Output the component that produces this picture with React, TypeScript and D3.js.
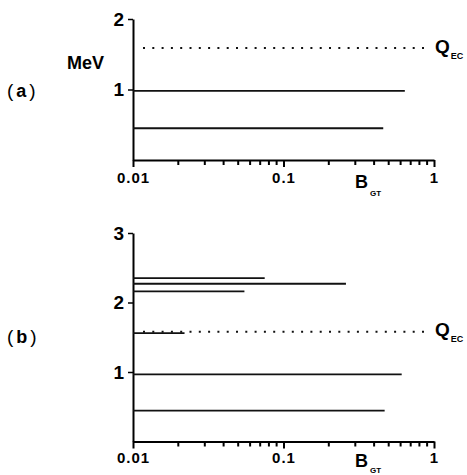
import { useRef, useEffect } from "react";
import * as d3 from "d3";

// panel (a)
const levelEnergiesA = [0.98, 0.45];
const levelBgtA = [0.64, 0.46];
const qecA = 1.59;

// panel (b)
const levelEnergiesB = [2.35, 2.27, 2.16, 1.56, 0.965, 0.445];
const levelBgtB = [0.075, 0.26, 0.055, 0.022, 0.61, 0.47];
const qecB = 1.58;

const xTickValues = [0.01, 0.1, 1];
const xTickLabels = ["0.01", "0.1", "1"];
const minorTicks = [
  0.02, 0.03, 0.04, 0.05, 0.06, 0.07, 0.08, 0.09, 0.2, 0.3, 0.4, 0.5, 0.6, 0.7,
  0.8, 0.9,
];
const yTicksA = [1, 2];
const yTicksB = [1, 2, 3];

const FONT = "'Liberation Sans', Arial, Helvetica, sans-serif";

export default function App() {
  const svgRef = useRef<SVGSVGElement | null>(null);

  useEffect(() => {
    const svg = d3.select(svgRef.current);
    svg.selectAll("*").remove();

    const x = d3.scaleLog().domain([0.01, 1]).range([133, 434]);

    const panels = [
      {
        y: d3.scaleLinear().domain([0, 2]).range([160, 19]),
        energies: levelEnergiesA,
        bgt: levelBgtA,
        qec: qecA,
        yTicks: yTicksA,
        label: "a",
        labelY: 97,
        bLabelY: 188,
        subDy: 8,
        qY: 53,
        xLabelY: 183,
      },
      {
        y: d3.scaleLinear().domain([0, 3]).range([441.5, 233]),
        energies: levelEnergiesB,
        bgt: levelBgtB,
        qec: qecB,
        yTicks: yTicksB,
        label: "b",
        labelY: 343,
        bLabelY: 467,
        subDy: 6,
        qY: 336,
        xLabelY: 463,
      },
    ];

    panels.forEach((p) => {
      const g = svg.append("g");
      const y = p.y;
      const y0 = y(0);

      // minor ticks on the log axis
      g.selectAll("line.minor")
        .data(minorTicks)
        .enter()
        .append("line")
        .attr("class", "minor")
        .attr("x1", (d) => x(d))
        .attr("x2", (d) => x(d))
        .attr("y1", y0)
        .attr("y2", y0 + 5)
        .attr("stroke", "#000")
        .attr("stroke-width", 2);

      // x axis: major ticks
      g.append("g")
        .attr("transform", `translate(0,${y0})`)
        .call(
          d3
            .axisBottom(x)
            .tickValues(xTickValues)
            .tickSize(7)
            .tickSizeOuter(0)
            .tickPadding(7)
            .tickFormat((_d: any, i: number) => xTickLabels[i])
        )
        .call((a: any) => a.select(".domain").attr("stroke-width", 2))
        .call((a: any) => a.selectAll("line").attr("stroke-width", 2))
        .call((a: any) =>
          a
            .selectAll("text")
            .attr("font-family", FONT)
            .attr("font-weight", "bold")
            .attr("font-size", 15)
            .attr("letter-spacing", 1)
            .attr("dy", null)
            .attr("y", p.xLabelY - y0)
        );

      // y axis
      g.append("g")
        .attr("transform", `translate(${x(0.01)},0)`)
        .call(
          d3
            .axisLeft(y)
            .tickValues(p.yTicks)
            .tickSize(5)
            .tickSizeOuter(0)
            .tickPadding(4)
            .tickFormat(d3.format("d"))
        )
        .call((a: any) => a.select(".domain").attr("stroke-width", 2))
        .call((a: any) => a.selectAll("line").attr("stroke-width", 1.5))
        .call((a: any) =>
          a
            .selectAll("text")
            .attr("font-family", FONT)
            .attr("font-weight", "bold")
            .attr("font-size", 19)
        );

      // level lines
      g.selectAll("line.level")
        .data(p.energies)
        .enter()
        .append("line")
        .attr("class", "level")
        .attr("x1", x(0.01))
        .attr("x2", (_d, i) => x(p.bgt[i]))
        .attr("y1", (d) => y(d))
        .attr("y2", (d) => y(d))
        .attr("stroke", "#111")
        .attr("stroke-width", 1.8);

      // Q_EC dotted line
      g.append("line")
        .attr("x1", x(0.01) + 10)
        .attr("x2", x(1) - 3)
        .attr("y1", y(p.qec))
        .attr("y2", y(p.qec))
        .attr("stroke", "#111")
        .attr("stroke-width", 2)
        .attr("stroke-dasharray", "2,7.3");

      const q = g
        .append("text")
        .attr("x", 435)
        .attr("y", p.qY)
        .attr("font-family", FONT)
        .attr("font-weight", "bold")
        .attr("font-size", 19);
      q.append("tspan").text("Q");
      q.append("tspan")
        .attr("font-size", 9)
        .attr("dy", 6)
        .attr("dx", 1)
        .text("EC");

      const b = g
        .append("text")
        .attr("x", 355)
        .attr("y", p.bLabelY)
        .attr("font-family", FONT)
        .attr("font-weight", "bold")
        .attr("font-size", 18);
      b.append("tspan").text("B");
      b.append("tspan")
        .attr("font-size", 8)
        .attr("dy", p.subDy)
        .attr("dx", 2)
        .text("GT");

      const lab = g
        .append("text")
        .attr("x", 7)
        .attr("y", p.labelY)
        .attr("font-family", FONT)
        .attr("font-size", 19);
      lab.append("tspan").attr("font-weight", "normal").text("(");
      lab
        .append("tspan")
        .attr("dx", 3)
        .attr("font-weight", "bold")
        .attr("font-size", 18)
        .text(p.label);
      lab
        .append("tspan")
        .attr("dx", 3)
        .attr("font-weight", "normal")
        .text(")");
    });

    svg
      .append("text")
      .attr("x", 67)
      .attr("y", 69)
      .attr("font-family", FONT)
      .attr("font-weight", "bold")
      .attr("font-size", 18)
      .text("MeV");
  }, []);

  return (
    <svg
      ref={svgRef}
      width={467}
      height={475}
      style={{ position: "absolute", left: 0, top: 0, background: "#fff" }}
    />
  );
}
